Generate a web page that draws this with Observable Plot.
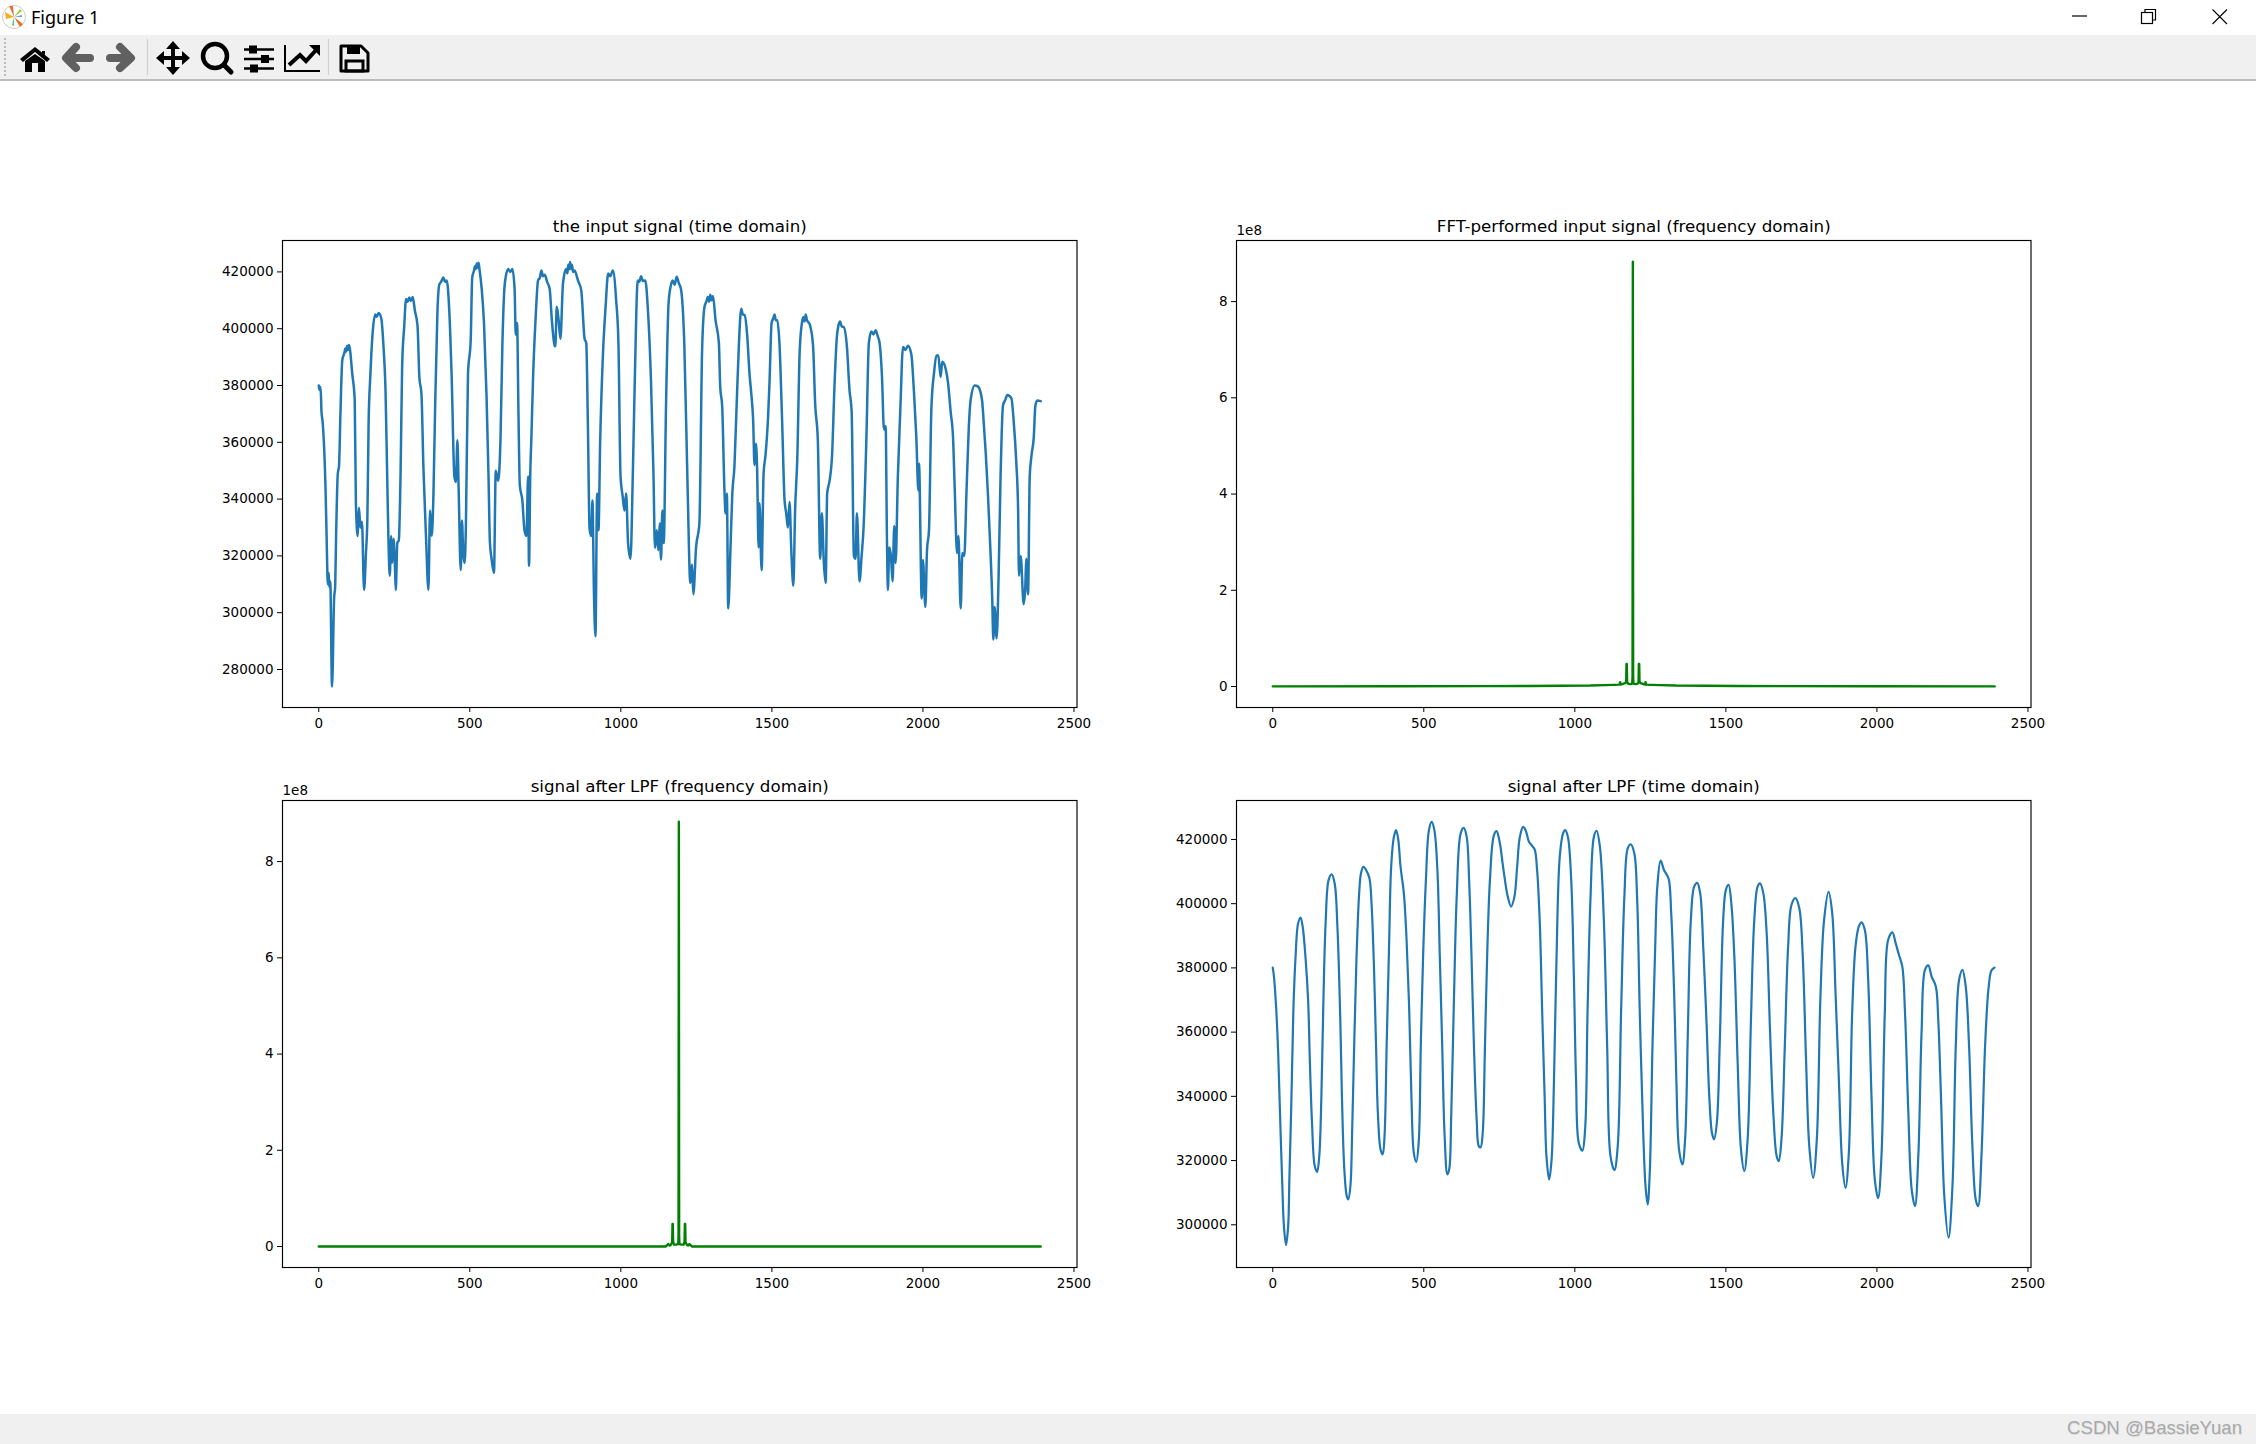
<!DOCTYPE html>
<html><head><meta charset="utf-8">
<script src="https://cdn.jsdelivr.net/npm/d3@7"></script>
<script src="https://cdn.jsdelivr.net/npm/@observablehq/plot@0.6"></script>
<style>
html,body{margin:0;padding:0;background:#fff;width:2256px;height:1444px;overflow:hidden;position:relative;font-family:"DejaVu Sans",sans-serif}
.abs{position:absolute}
#tbar{left:0;top:35px;width:2256px;height:44px;background:#f0f0f0;border-bottom:2px solid #bcbcbc;box-sizing:content-box}
#status{left:0;top:1414px;width:2256px;height:30px;background:#f0f0f0}
#ftitle{left:31px;top:5px;font:18px "Noto Sans",sans-serif;color:#000;line-height:25px}
#mark{right:14px;top:1416px;font:18.6px "Liberation Sans",sans-serif;color:#a9a9a9;line-height:24px;text-shadow:.5px .5px 0 #ddd}
svg.chart{position:absolute;overflow:visible}
</style></head><body>
<div class="abs" id="tbar"></div><div class="abs" id="status"></div>
<div class="abs" id="ftitle">Figure 1</div>
<div class="abs" id="mark">CSDN @BassieYuan</div>
<svg class="abs" style="left:0;top:0" width="2256" height="90" xmlns="http://www.w3.org/2000/svg">
  <!-- window icon -->
  <circle cx="14" cy="17" r="11.5" fill="#fff" stroke="#ccc"/>
  <path d="M14 17L5 12L6 19Z" fill="#f0b020"/><path d="M14 17L9 6L13 6Z" fill="#e8703a"/>
  <path d="M14 17L23 24L20 27Z" fill="#e8702a"/><path d="M14 17L20 9L22 11Z" fill="#9cd040"/>
  <path d="M14 17L12 25L14 26Z" fill="#50c878"/><path d="M14 17L22 15L22 17Z" fill="#6aa0e0"/>
  <!-- window controls -->
  <path d="M2072 16H2087" stroke="#000" stroke-width="1.2"/>
  <rect x="2141.5" y="12.5" width="11" height="11" fill="#fff" stroke="#000" stroke-width="1.2"/>
  <path d="M2145 12V9.5H2155.5V20H2153" fill="none" stroke="#000" stroke-width="1.2"/>
  <path d="M2212.5 9.5L2227 24M2227 9.5L2212.5 24" stroke="#000" stroke-width="1.1"/>
  <!-- toolbar -->
  <path d="M5 38V76" stroke="#bbb" stroke-dasharray="2 2" stroke-width="2"/>
  <path d="M147.5 39V75M328.5 39V75" stroke="#d0d0d0" stroke-width="1.2"/>
  <path d="M20 59L35 47L50 59L47 62L35 52L23 62ZM25 61L35 54L45 61V72H38V63H32V72H25Z" fill="#000"/>
  <path d="M42 51H45V55L42 53Z" fill="#000"/>
  <path d="M90 58H69M76 47L66 58L76 68" fill="none" stroke="#606060" stroke-width="8" stroke-linecap="round" stroke-linejoin="round"/>
  <path d="M110 58H130M120 47L131 58L120 68" fill="none" stroke="#606060" stroke-width="8" stroke-linecap="round" stroke-linejoin="round"/>
  <path d="M173 45V71M160 58H186" stroke="#000" stroke-width="4"/>
  <path d="M173 41L180 49H166ZM173 75L180 67H166ZM156 58L164 51V65ZM190 58L182 51V65Z" fill="#000"/>
  <circle cx="215" cy="56" r="12" fill="none" stroke="#000" stroke-width="4.5"/>
  <path d="M224 65L231 72" stroke="#000" stroke-width="5" stroke-linecap="round"/>
  <path d="M244 49.5H274M244 59H274M244 68.5H274" stroke="#000" stroke-width="2.4"/>
  <rect x="249" y="45.5" width="8" height="8" fill="#000"/><rect x="261" y="55" width="8" height="8" fill="#000"/><rect x="250" y="64.5" width="8" height="8" fill="#000"/>
  <path d="M285 45V71H320" fill="none" stroke="#000" stroke-width="2"/>
  <path d="M289 65L300 55L306 61L317 49" fill="none" stroke="#000" stroke-width="4"/>
  <path d="M309 45H320V56Z" fill="#000"/>
  <path d="M341 46H361L368 53V71H341Z" fill="none" stroke="#000" stroke-width="3" stroke-linejoin="round"/>
  <path d="M347 46H360V54H347Z" fill="#000"/><path d="M346 61H363V71H346Z" fill="none" stroke="#000" stroke-width="3"/>
</svg>
<script>
// Values. Signals: [sample, value in thousands]. Spectra: [bin, value in 1e8].
const inputSignal = [[0,380],[2,378.5],[6,379.5],[9,371],[13,367],[17,360],[22,345.5],[26,327],[30,310],[33,314],[35,309],[38,311],[44,274],[51,305.5],[54,308.5],[58,330],[63,349],[67,351.5],[72,371],[78,389],[85,391.5],[88,393],[91,392],[94,394],[97,392.5],[100,394.3],[103,393],[111,384],[119,375],[123,338.5],[129,327],[133,337],[138,330],[143,332],[150,308],[156,320.5],[161,333.5],[165,366.5],[171,384],[178,398],[187,405],[192,404.2],[198,405.5],[207,403.6],[215,392.5],[221,378.5],[227,345.5],[231,324.5],[235,313],[240,327],[243,317.5],[247.5,326],[252,317],[255,308],[260,324.5],[265,325.5],[271,350],[276,386.5],[283,401],[289,410.5],[294,409.5],[300,411],[305,409.8],[311,411.2],[318,406.5],[327,401],[333,383],[340,377],[346.5,351],[355.5,325.5],[363,308],[368.5,336],[374,327],[379.5,341],[385,371],[393,406.5],[399,415.5],[405,416.5],[412.5,418],[418,416.5],[423.5,417],[432,406.5],[440,383],[449,348],[454,346],[459,360.7],[463,344],[470,315],[474,332.5],[478.5,320.5],[483,317.5],[487,330],[494,384],[503,396],[508,418],[514,420.5],[517,422],[520,421],[523,423],[526,421.5],[529,423.2],[532,421],[539,414.5],[547,402],[555.5,376],[562,348],[566.5,325],[572,319],[580,314],[586,350],[594,346.5],[601.5,360.7],[608,395],[616,416],[627,421],[634,420],[641,421],[648.5,413.5],[652,398],[656.5,402],[661,371],[665.5,345],[674,339.5],[681,329],[687.5,327],[693,348],[696,316.5],[700,348],[704,362],[709.5,383],[718,404],[726,417],[732,418],[737,420.5],[742,418.5],[748,419],[756,416.5],[764.5,414],[771,404],[779,395],[783,393.8],[788,407.7],[794,403],[800,396.5],[808.5,416],[819,421],[823,419.5],[826,422.5],[829,421],[832,423.5],[835,421],[838,422.5],[842,420],[847,420.5],[858,417],[869,413.5],[880,396.5],[885.5,395],[891,365.7],[896.5,329.5],[902,327],[906,339.5],[911,307],[916,291.7],[921.5,342],[926,329],[931.5,360],[940,389],[949.5,407.7],[958,419.4],[965,418.5],[973.5,420.5],[984.5,410],[992,395],[999,348],[1006,341],[1012,336],[1017.5,342],[1024,324.5],[1032,319],[1039.5,348],[1046,381],[1056,417],[1061,416.5],[1067,418.5],[1073,416.8],[1081,417],[1089,407.7],[1100,381],[1108,349],[1113,322.8],[1119,329],[1124,322],[1129,331.5],[1133,318.7],[1137.5,336],[1142,324.5],[1149.5,372.6],[1158,409],[1165,415],[1171.5,417],[1178,415.5],[1185,418.3],[1192,416],[1199,414],[1210,395],[1221,344],[1230,310.5],[1235.5,317],[1240,306.5],[1249,323],[1260,331.5],[1269,392.5],[1277,407.7],[1283,409.5],[1288,411.2],[1292,409.5],[1296,412],[1300,410],[1305,411.5],[1313.5,403],[1324.5,395],[1329,379.5],[1335.5,372.5],[1343,343],[1346.5,335],[1351,342],[1355.5,301.5],[1363,323],[1369,342],[1376,351.5],[1382,369],[1391,395],[1398.5,407],[1404,405],[1409.5,404.8],[1418,398],[1426,384],[1431.5,377.5],[1438,367.7],[1442.5,352],[1447,359.5],[1451,351],[1456,323],[1459,338.5],[1466,315],[1472.5,349],[1479,355.5],[1487,368],[1492,380.7],[1499,402],[1504,403.5],[1509,405],[1513,403],[1518,403],[1525,395],[1534,367],[1542,339.5],[1547.5,335],[1553,330],[1558.5,339],[1564,322.8],[1571,309.5],[1577,336.5],[1584,354],[1592,392],[1600,402.5],[1604,404],[1608,402.5],[1612,405],[1616,403],[1625,401.6],[1636,394.5],[1643.5,373],[1652,361],[1660,319],[1665.5,335],[1672,317.5],[1678,310.5],[1683,342],[1691,346.5],[1699,355],[1707.5,380.7],[1715,397],[1720,401],[1726,402.5],[1731,400.8],[1737.5,400.6],[1748.5,393.5],[1757,378.3],[1764,371],[1771.5,320],[1777,319],[1781.5,335],[1790,311],[1797,320],[1803.5,330],[1812.5,360],[1821,395],[1829,399],[1836,398],[1843.5,399.5],[1850,397.5],[1856.5,395],[1864.5,383],[1871,364.5],[1876.5,365.7],[1881,325],[1884,308],[1888.5,323],[1894,320],[1899.5,311],[1905,330.5],[1909.5,317.5],[1917,348],[1925,371],[1934,393.6],[1942,392.5],[1950.5,394],[1961.5,391],[1970,378.3],[1978,362],[1985,343],[1987,352.5],[1996,305],[2000,318.6],[2008,302],[2013.5,322],[2020,329],[2028,372],[2037,384.7],[2044.5,390.6],[2051,390.6],[2058.5,383],[2064,388.4],[2075,386],[2083,381],[2092,370.5],[2099.5,362],[2105,344.5],[2113,321],[2117.5,327],[2125,301.5],[2130.5,321],[2137,320],[2144,342],[2151.5,364.5],[2158,375],[2171.5,380],[2182.5,379.6],[2195.5,375],[2202,365.7],[2208,356],[2215.5,341],[2223,323],[2229.5,304.5],[2233,290.6],[2237,302],[2244,291],[2250.5,313],[2257,348],[2265,373],[2273,375],[2279.5,376.7],[2293,375.5],[2300,368],[2309,353],[2315,336.5],[2318,313],[2323.5,320],[2333.5,303],[2339,309.5],[2342,319],[2348,306.5],[2353.5,348],[2359,355],[2367,362],[2372,372.7],[2378,374.7],[2390,374.5]];

const filteredSignal = [[0,380.1],[4,377.3],[11,368],[18,353.5],[24,334.8],[31,314.1],[37,299.6],[44,293.7],[51,299.6],[55,314.1],[62,340],[68,365.9],[75,382.5],[84,393.9],[92,395.7],[99,392.9],[109,382.5],[117,370.1],[123,350.4],[130,331.7],[139,318.3],[147,316.5],[154,321.4],[161,340],[168,371.1],[175,393.9],[185,407.4],[195,409.1],[205,406.3],[214,392.9],[223,365.9],[229,340],[237,317.2],[245,308.9],[250,307.9],[257,312],[263,329.7],[270,357.6],[277,382.5],[286,403.2],[292,409.4],[300,411.5],[309,410.5],[320,407.9],[327,400.1],[335,380.4],[342,355.6],[348,334.8],[357,323.4],[364,321.9],[370,327.6],[377,355.6],[385,386.6],[392,411.5],[401,420.8],[408,422.9],[415,420.3],[423,411.5],[434,403.2],[443,388.7],[452,365.9],[459,340],[467,322.4],[475,319.6],[483,325.5],[490,355.6],[498,384.6],[507,407.4],[517,422.9],[526,425.5],[535,422.9],[545,410.5],[553,383.5],[561,355.6],[569,327.6],[578,315.7],[584,317.2],[591,334.8],[600,371.1],[609,402.2],[622,421.9],[632,423.6],[642,420.8],[650,407.4],[658,383.5],[666,355.6],[675,332.8],[682,324.5],[688,324.1],[695,328.6],[702,353.5],[710,384.6],[719,407.4],[732,421.3],[741,422.6],[751,419.3],[761,412.5],[767,408.4],[778,402.2],[789,399.1],[800,402.2],[809,411.5],[818,420.8],[829,423.9],[837,422.9],[848,419.3],[857,418.2],[867,416.9],[875,410.5],[884,393.9],[892,365.9],[900,340],[906,321.4],[915,314.1],[923,320.3],[931,345.2],[939,381.5],[950,414.6],[961,421.9],[968,422.9],[977,420.8],[988,407.4],[997,376.3],[1004,345.2],[1013,325.5],[1025,323.1],[1034,329.7],[1042,365.9],[1052,402.2],[1063,420.8],[1072,422.7],[1083,417.7],[1096,394.9],[1107,355.6],[1118,321.4],[1131,317],[1142,324.5],[1153,365.9],[1164,402.2],[1175,417.2],[1185,418.5],[1197,415.6],[1206,402.2],[1215,365.9],[1226,329.7],[1234,312],[1241,306.3],[1248,316.2],[1257,355.6],[1266,386.6],[1273,405.3],[1284,413.4],[1295,410.5],[1310,407.9],[1319,397],[1329,371.1],[1336,345.2],[1345,323.4],[1356,318.8],[1365,326.6],[1374,359.7],[1384,394.9],[1395,405.3],[1405,406.5],[1415,403.2],[1425,386.6],[1436,362.8],[1445,340],[1454,328.6],[1461,326.6],[1470,331.7],[1480,357.6],[1491,394.9],[1500,404.3],[1509,405.9],[1518,400.1],[1528,383.5],[1539,350.4],[1550,323.4],[1561,316.7],[1572,326.6],[1583,363.8],[1594,394.9],[1605,405.3],[1613,406.3],[1624,403.2],[1635,390.8],[1646,360.7],[1657,334.8],[1668,321.4],[1675,319.8],[1684,326.6],[1695,355.6],[1706,386.6],[1717,399.6],[1730,401.7],[1743,398.6],[1754,384.6],[1765,352.5],[1776,324.5],[1789,314.6],[1801,326.6],[1813,371.1],[1825,394.9],[1840,403.7],[1852,397],[1863,372.1],[1874,345.2],[1885,319.3],[1896,311.5],[1907,322.4],[1918,365.9],[1929,386.6],[1940,392.9],[1949,394.2],[1960,391.8],[1971,376.3],[1982,340],[1993,314.1],[2004,308.3],[2015,321.4],[2026,365.9],[2037,388.7],[2051,391.1],[2062,387.7],[2073,384],[2084,380.4],[2093,365.9],[2104,334.8],[2115,311],[2126,305.8],[2137,321.4],[2148,360.7],[2159,379.4],[2170,380.8],[2181,377.3],[2195,374.2],[2203,363.8],[2212,340],[2223,308.9],[2237,296],[2250,312],[2261,355.6],[2272,376.3],[2283,379.4],[2294,374.2],[2305,355.6],[2316,324.5],[2327,307.9],[2335,305.8],[2346,321.4],[2358,355.6],[2369,373.2],[2379,379.2],[2389,380.1]];

const inputSpectrum = [[0,0.004],[400,0.006],[700,0.008],[850,0.012],[950,0.016],[1050,0.02],[1100,0.03],[1130,0.035],[1148,0.04],[1150,0.09],[1152,0.04],[1166,0.07],[1170,0.1],[1171,0.47],[1172,0.47],[1173,0.1],[1176,0.06],[1183,0.05],[1190,0.06],[1191,0.2],[1192,8.83],[1193,0.2],[1194,0.06],[1201,0.05],[1208,0.06],[1211,0.1],[1212,0.47],[1213,0.47],[1214,0.1],[1218,0.07],[1232,0.04],[1234,0.09],[1236,0.04],[1254,0.035],[1284,0.03],[1334,0.02],[1434,0.016],[1534,0.012],[1684,0.008],[1984,0.006],[2390,0.004]];

const filteredSpectrum = [[0,0],[1148,0],[1152,0.02],[1157,0.05],[1162,0.02],[1165,0.03],[1168,0.07],[1170,0.1],[1171,0.47],[1172,0.47],[1173,0.1],[1176,0.04],[1183,0.04],[1190,0.05],[1191,0.2],[1192,8.83],[1193,0.2],[1194,0.05],[1201,0.04],[1208,0.04],[1211,0.1],[1212,0.47],[1213,0.47],[1214,0.1],[1216,0.07],[1219,0.03],[1222,0.02],[1227,0.05],[1232,0.02],[1236,0],[2390,0]];

const xTicks = [0,500,1000,1500,2000,2500];
const inputTicks = [280000,300000,320000,340000,360000,380000,400000,420000];
const filteredTicks = [300000,320000,340000,360000,380000,400000,420000];
const spectrumTicks = [0,2,4,6,8];
const xDomain = [-120,2510];
const blue = "#1f77b4", green = "#008000";
const FS = 13.5, TS = 16.7;

function panel({left, top, data, scale, color, yDomain, yTicks, title, curve, width, offsetLabel}) {
  const mL = 90, mR = 40, mT = 40, mB = 40, W = 794.5, H = 467;
  const marks = [
    Plot.line(data, {x: d => d[0], y: d => d[1] * scale, stroke: color, strokeWidth: width, curve: curve || "linear", strokeLinejoin: "round"}),
    Plot.frame({stroke: "#000", strokeWidth: 1.15}),
    Plot.axisX({ticks: xTicks, tickSize: 5, tickPadding: 6, tickFormat: d => String(d), label: null, fontSize: FS, fill:"#000"}),
    Plot.axisY({ticks: yTicks, tickSize: 5, tickPadding: 4, tickFormat: d => String(d), label: null, fontSize: FS, fill:"#000"}),
    Plot.text([title], {frameAnchor: "top", dy: -9, text: d => d, fontSize: TS, fill: "#000", lineAnchor:"bottom"})
  ];
  if (offsetLabel) marks.push(Plot.text([offsetLabel], {frameAnchor: "top-left", dy: -5.5, dx: 0, text: d => d, fontSize: FS, fill: "#000", lineAnchor:"bottom", textAnchor:"start"}));
  const chart = Plot.plot({
    width: W + mL + mR, height: H + mT + mB,
    marginLeft: mL, marginRight: mR, marginTop: mT, marginBottom: mB,
    x: {domain: xDomain}, y: {domain: yDomain},
    style: {fontFamily: '"DejaVu Sans"', background: "transparent", color: "#000", overflow:"visible"},
    marks
  });
  chart.classList.add("chart");
  chart.style.left = (left - mL) + "px";
  chart.style.top = (top - mT) + "px";
  chart.style.position = "absolute";
  document.body.appendChild(chart);
}
const L1 = 282, L2 = 1236, T1 = 240, T2 = 800;
panel({left: L1, top: T1, data: inputSignal, scale: 1000, color: blue, width: 2.5, curve: "monotone-x", yDomain: [266620,431060], yTicks: inputTicks, title: "the input signal (time domain)"});
panel({left: L2, top: T1, data: inputSpectrum, scale: 1, color: green, width: 2.4, yDomain: [-0.436,9.27], yTicks: spectrumTicks, title: "FFT-performed input signal (frequency domain)", offsetLabel: "1e8"});
panel({left: L1, top: T2, data: filteredSpectrum, scale: 1, color: green, width: 2.4, yDomain: [-0.436,9.27], yTicks: spectrumTicks, title: "signal after LPF (frequency domain)", offsetLabel: "1e8"});
panel({left: L2, top: T2, data: filteredSignal, scale: 1000, color: blue, width: 2.2, yDomain: [286700,432130], yTicks: filteredTicks, title: "signal after LPF (time domain)", curve: "catmull-rom"});
</script>
</body></html>
